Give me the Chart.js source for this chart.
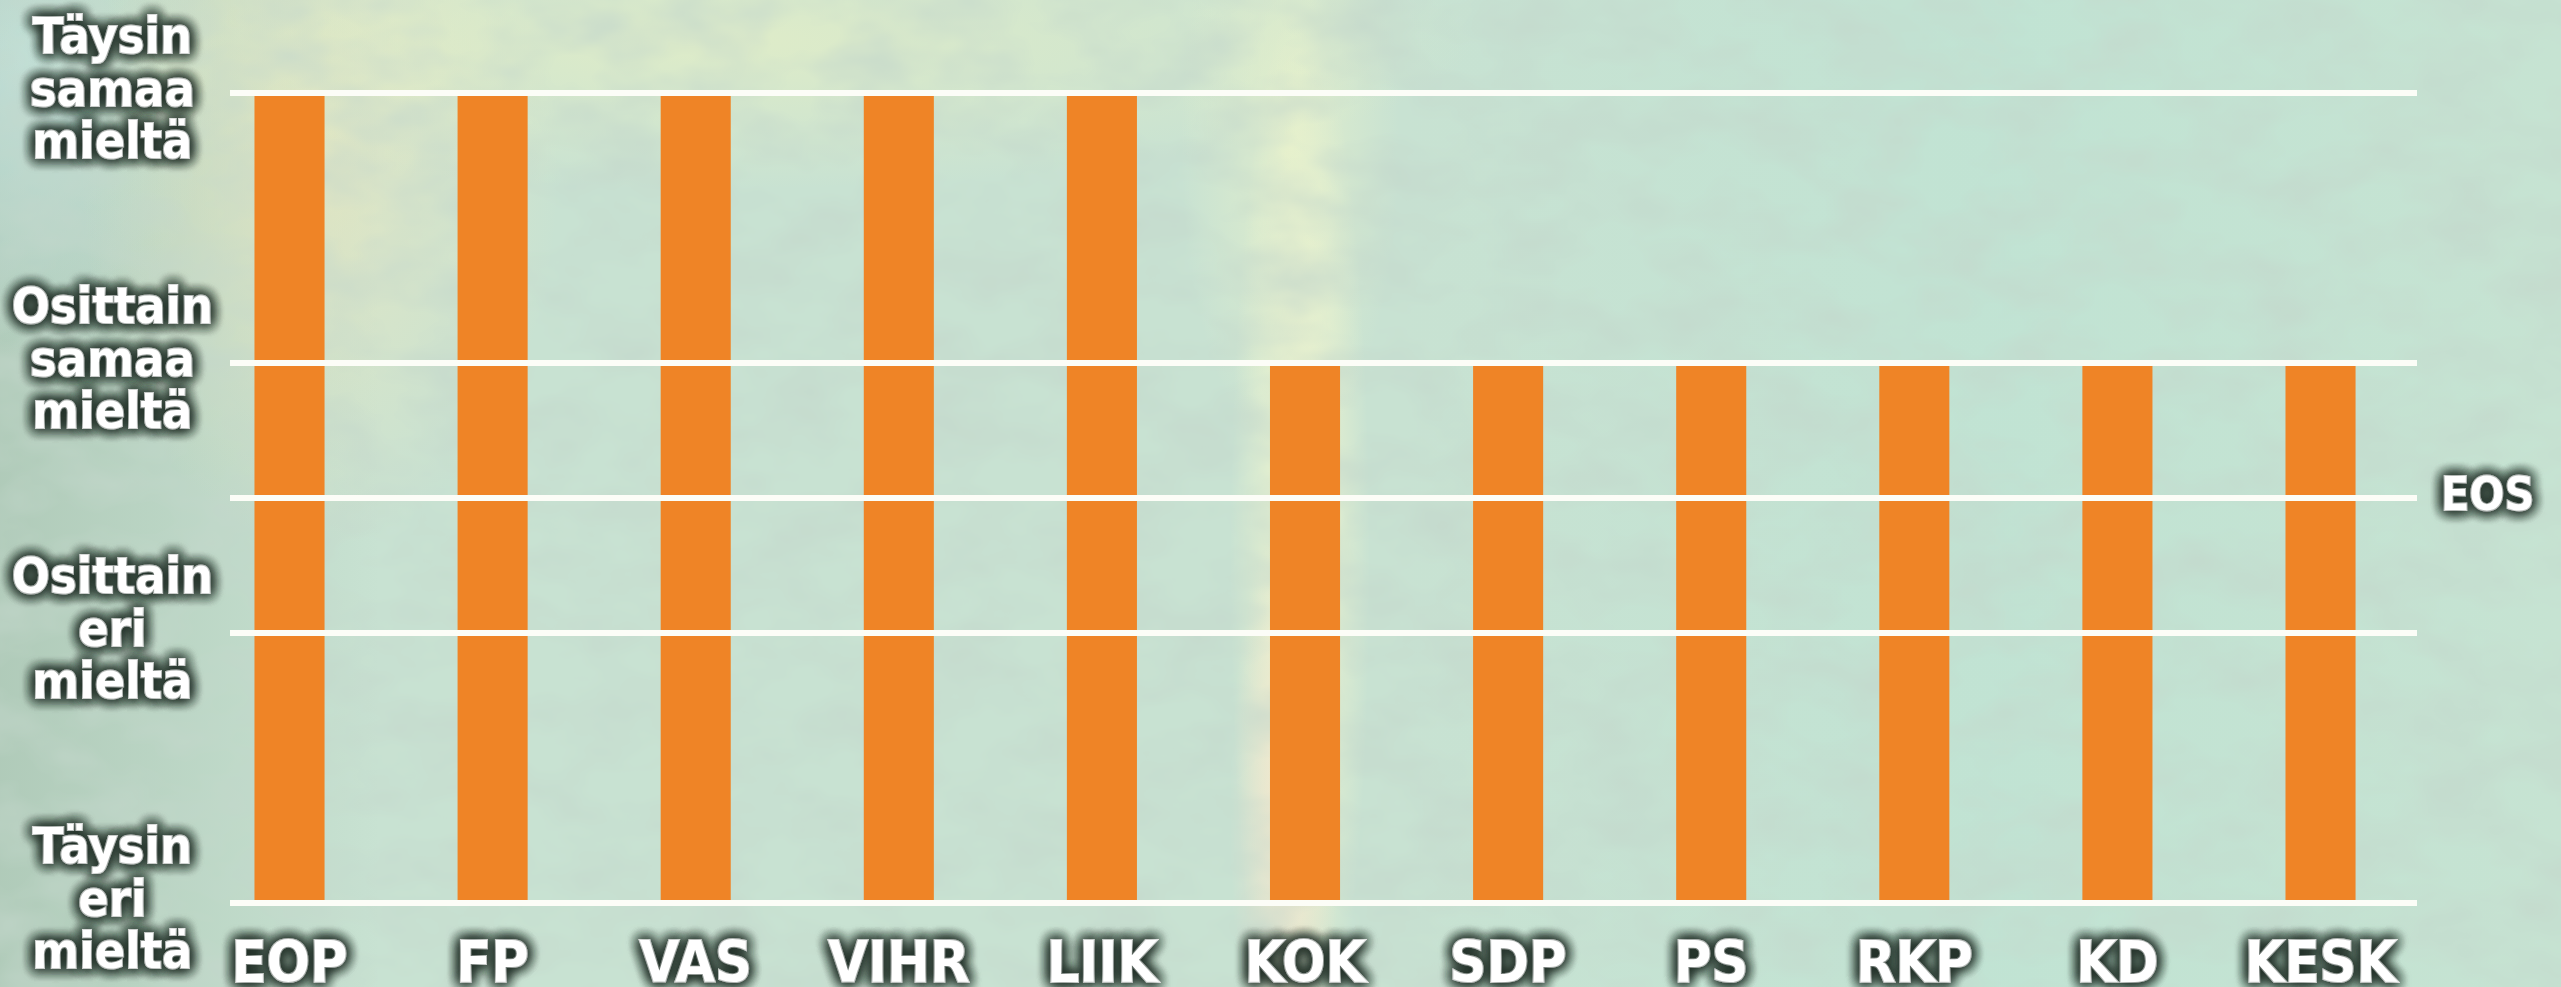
<!DOCTYPE html>
<html>
<head>
<meta charset="utf-8">
<script src="https://cdn.jsdelivr.net/npm/chart.js@4"></script>
<style>
html, body { margin: 0; padding: 0; width: 100%; height: 100%; overflow: hidden; }
body {
  background-color: #c8e2d2;
  background-image:
    url("data:image/svg+xml;utf8,<svg xmlns='http://www.w3.org/2000/svg' width='2561' height='987'><filter id='n'><feTurbulence type='fractalNoise' baseFrequency='0.012 0.02' numOctaves='3' seed='7'/><feColorMatrix values='0 0 0 0 0.55  0 0 0 0 0.68  0 0 0 0 0.6  1.3 0 0 0 -0.45'/></filter><rect width='100%' height='100%' filter='url(%23n)'/></svg>"),
    radial-gradient(ellipse 55px 300px at 1285px 820px, rgba(255,228,205,0.7), rgba(255,228,205,0) 100%),
    radial-gradient(ellipse 70px 560px at 1300px 560px, rgba(255,252,205,0.85), rgba(255,245,210,0) 100%),
    radial-gradient(ellipse 110px 320px at 1290px 140px, rgba(240,245,200,0.6), rgba(240,245,205,0) 100%),
    radial-gradient(ellipse 760px 150px at 720px 40px, rgba(232,240,196,0.7), rgba(232,240,196,0) 100%),
    radial-gradient(ellipse 240px 380px at 320px 170px, rgba(238,232,188,0.65), rgba(236,232,190,0) 100%),
    radial-gradient(ellipse 200px 300px at 20px 60px, rgba(200,235,235,0.6), rgba(200,235,235,0) 100%),
    linear-gradient(90deg, rgba(140,168,148,0.4) 0px, rgba(140,168,148,0) 380px),
    linear-gradient(90deg, rgba(185,228,212,0) 1400px, rgba(188,228,212,0.6) 2000px, rgba(196,228,210,0.5) 2561px);
}
#wrap { position: absolute; left: 0; top: 0; width: 2561px; height: 987px; }
</style>
</head>
<body>
<div id="wrap"><canvas id="c"></canvas></div>
<script>
// Parties (x-axis categories)
const categories = ['EOP', 'FP', 'VAS', 'VIHR', 'LIIK', 'KOK', 'SDP', 'PS', 'RKP', 'KD', 'KESK'];
// Answer scale: numeric level of each answer option (gridlines are unevenly spaced in the original)
const levelValues = [0, 2, 3, 4, 6];
const levelLabels = [
  ['Täysin', 'eri', 'mieltä'],
  ['Osittain', 'eri', 'mieltä'],
  ['EOS'],
  ['Osittain', 'samaa', 'mieltä'],
  ['Täysin', 'samaa', 'mieltä']
];
// Each party's answer (6 = Täysin samaa mieltä, 4 = Osittain samaa mieltä)
const answers = [6, 6, 6, 6, 6, 4, 4, 4, 4, 4, 4];

const FONT = "'DejaVu Sans Condensed', 'DejaVu Sans', sans-serif";

const shadowPlugin = {
  id: 'labelShadow',
  afterLayout(chart) {
    Object.values(chart.scales).forEach(s => {
      if (s._shadowWrapped) return;
      const orig = s.drawLabels;
      s.drawLabels = function (area) {
        const ctx = this.ctx;
        ctx.save();
        ctx.shadowColor = 'rgba(34,48,40,1)';
        ctx.shadowBlur = 13;
        ctx.shadowOffsetX = 0;
        ctx.shadowOffsetY = 0;
        orig.call(this, area);
        orig.call(this, area);
        orig.call(this, area);
        ctx.restore();
      };
      s._shadowWrapped = true;
    });
  }
};

const labelFor = (v) => {
  const i = levelValues.indexOf(v);
  return i < 0 ? '' : levelLabels[i];
};

new Chart(document.getElementById('c'), {
  type: 'bar',
  data: {
    datasets: [{
      data: answers.map((v, i) => ({ x: i, y: v })),
      backgroundColor: '#ef8426',
      borderWidth: 0,
      barPercentage: 0.345,
      categoryPercentage: 1
    }]
  },
  options: {
    responsive: true,
    maintainAspectRatio: false,
    animation: false,
    layout: { padding: { top: 93, left: 0, right: 0, bottom: 0 } },
    plugins: { legend: { display: false }, tooltip: { enabled: false } },
    scales: {
      x: {
        type: 'linear',
        offset: false,
        min: -0.293,
        max: 10.475,
        grid: { display: false, offset: false },
        border: { display: false },
        afterBuildTicks: (s) => { s.ticks = categories.map((c, i) => ({ value: i })); },
        afterFit: (s) => { s.height = 84; s.paddingLeft = 0; s.paddingRight = 0; },
        ticks: {
          color: '#ffffff',
          textStrokeColor: '#ffffff',
          textStrokeWidth: 2,
          padding: 22,
          maxRotation: 0,
          autoSkip: false,
          font: { family: FONT, weight: 'bold', size: 57, lineHeight: 1.2 },
          callback: (v) => categories[v]
        }
      },
      y: {
        position: 'left',
        min: 0,
        max: 6,
        afterBuildTicks: (s) => { s.ticks = levelValues.map(v => ({ value: v })); },
        afterFit: (s) => { s.width = 230; s.paddingTop = 0; s.paddingBottom = 0; },
        grid: { color: '#fcfdf7', lineWidth: 6, drawTicks: false, z: 1 },
        border: { display: false },
        ticks: {
          color: '#ffffff',
          textStrokeColor: '#ffffff',
          textStrokeWidth: 2,
          autoSkip: false,
          crossAlign: 'center',
          padding: 17,
          z: 2,
          font: { family: FONT, weight: 'bold', size: 50, lineHeight: 1.05 },
          callback: (v) => (v === levelValues[2] ? '' : labelFor(v))
        }
      },
      y2: {
        position: 'right',
        min: 0,
        max: 6,
        afterBuildTicks: (s) => { s.ticks = [{ value: levelValues[2] }]; },
        afterFit: (s) => { s.width = 144; s.paddingTop = 0; s.paddingBottom = 0; },
        grid: { display: false, drawTicks: false },
        border: { display: false },
        ticks: {
          color: '#ffffff',
          textStrokeColor: '#ffffff',
          textStrokeWidth: 2,
          autoSkip: false,
          crossAlign: 'center',
          padding: 24,
          z: 2,
          font: { family: FONT, weight: 'bold', size: 46 },
          callback: (v) => labelFor(v)[0]
        }
      }
    }
  },
  plugins: [shadowPlugin]
});
</script>
</body>
</html>
